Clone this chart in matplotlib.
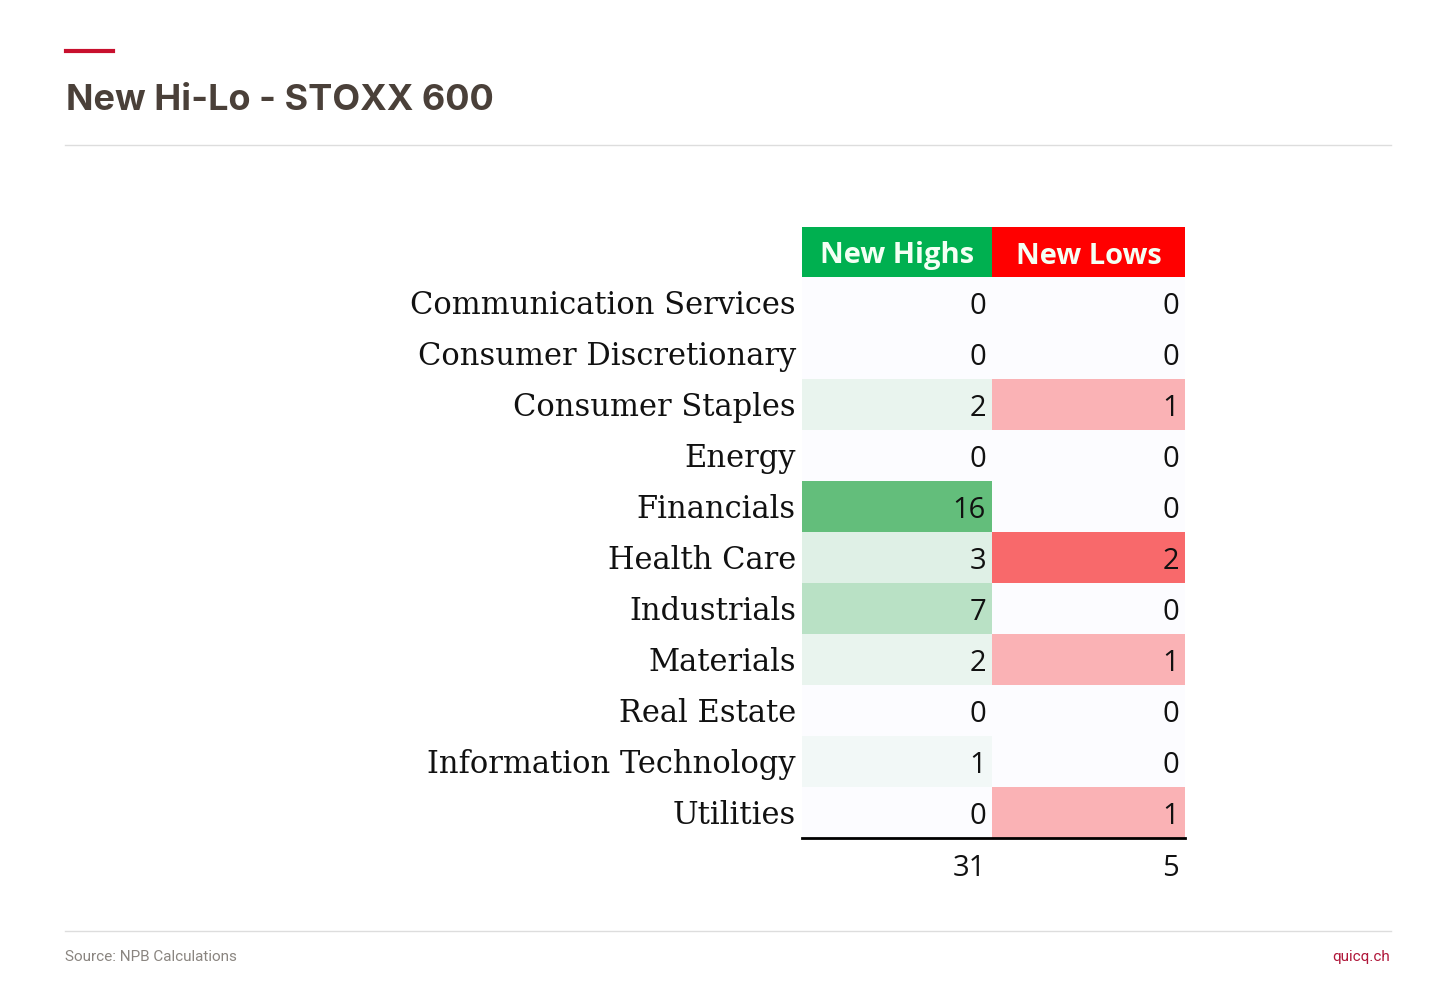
import numpy as np
import matplotlib
matplotlib.use("Agg")
import matplotlib.pyplot as plt
from matplotlib.colors import LinearSegmentedColormap

# ============================================================
# Data
# ============================================================
SECTORS = ["Communication Services", "Consumer Discretionary", "Consumer Staples",
           "Energy", "Financials", "Health Care", "Industrials", "Materials",
           "Real Estate", "Information Technology", "Utilities"]
NEW_HIGHS = [0, 0, 2, 0, 16, 3, 7, 2, 0, 1, 0]
NEW_LOWS = [0, 0, 1, 0, 0, 2, 0, 1, 0, 0, 1]
HEADERS = ["New Highs", "New Lows"]

TITLE = "New Hi-Lo - STOXX 600"
SOURCE = "Source: NPB Calculations"
BRAND = "quicq.ch"

# ============================================================
# Layout (pixels)
# ============================================================
W, H = 1456, 990
COL_X = [802, 992, 1185]
HEAD_TOP, ROW_TOP, ROW_H = 227, 277, 51

green_map = LinearSegmentedColormap.from_list("g", ["#fcfcff", "#63be7b"])
red_map = LinearSegmentedColormap.from_list("r", ["#fcfcff", "#f8696b"])

fig = plt.figure(figsize=(W / 100, H / 100), dpi=100)
ax = fig.add_axes([0, 0, 1, 1])
ax.set_xlim(0, W)
ax.set_ylim(H, 0)
ax.axis("off")

# header decorations
ax.plot([66, 113], [51, 51], color="#c8102e", lw=3)
ax.text(66, 101, TITLE, fontsize=26, fontweight="bold", color="#4a4039",
        family="Inter", va="center")
ax.plot([65, 1391], [145, 145], color="#dddddd", lw=1)
ax.plot([65, 1391], [931, 931], color="#dddddd", lw=1)
ax.text(65, 957, SOURCE, fontsize=11, color="#8a8580", family="Roboto", va="center")
ax.text(1390, 957, BRAND, fontsize=11, color="#b0173a", family="Roboto",
        va="center", ha="right")

# table header
for j, (hdr, col) in enumerate(zip(HEADERS, ["#00b050", "#ff0000"])):
    ax.add_patch(plt.Rectangle((COL_X[j], HEAD_TOP), COL_X[j + 1] - COL_X[j],
                               ROW_TOP - HEAD_TOP, color=col, lw=0))
    ax.text((COL_X[j] + COL_X[j + 1]) / 2, (HEAD_TOP + ROW_TOP) / 2 + 4, hdr,
            fontsize=21, fontweight="bold", color="#f4fff4", family="Open Sans",
            ha="center", va="center")

# rows
for i, name in enumerate(SECTORS):
    y0 = ROW_TOP + i * ROW_H
    yc = y0 + ROW_H / 2
    ax.text(796, yc + 3, name, fontsize=22, family="DejaVu Serif", color="#111111",
            ha="right", va="center")
    for j, (vals, cmap) in enumerate([(NEW_HIGHS, green_map), (NEW_LOWS, red_map)]):
        v = vals[i]
        ax.add_patch(plt.Rectangle((COL_X[j], y0), COL_X[j + 1] - COL_X[j], ROW_H,
                                   color=cmap(v / max(vals)), lw=0))
        ax.text(COL_X[j + 1] - 6, yc + 4, str(v), fontsize=21, family="Open Sans",
                color="#111111", ha="right", va="center")

bottom = ROW_TOP + len(SECTORS) * ROW_H
ax.plot([COL_X[0], COL_X[2]], [bottom, bottom], color="black", lw=2)
for j, vals in enumerate([NEW_HIGHS, NEW_LOWS]):
    ax.text(COL_X[j + 1] - 6, bottom + 31, str(sum(vals)), fontsize=21,
            family="Open Sans", color="#111111", ha="right", va="center")

fig.savefig("out.png", dpi=100)
